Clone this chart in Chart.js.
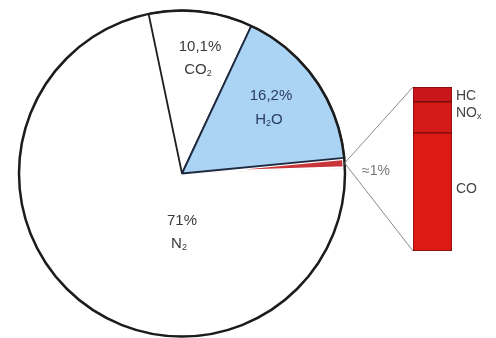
<!DOCTYPE html>
<html><head><meta charset="utf-8">
<script src="https://cdn.jsdelivr.net/npm/chart.js@4.4.1/dist/chart.umd.min.js"></script>
<style>
html,body{margin:0;padding:0;background:#fff;}
#wrap{position:relative;width:496px;height:338px;overflow:hidden;background:#fff;}
canvas{position:absolute;left:0;top:0;}
.lbl{position:absolute;transform:translate(-50%,-50%);font-family:"Liberation Sans",Arial,sans-serif;font-size:15px;color:#3a3a3a;white-space:nowrap;line-height:1;}
.lbl sub{font-size:9px;vertical-align:-2px;}
.side{transform:translate(0,-50%);}
</style></head><body>
<div id="wrap">
<canvas id="pie" width="496" height="338"></canvas>
<canvas id="bar" width="496" height="338"></canvas>
<div class="lbl" style="left:200px;top:45px;">10,1%</div>
<div class="lbl" style="left:198px;top:69px;">CO<sub>2</sub></div>
<div class="lbl" style="left:271px;top:94px;color:#2b3d63;">16,2%</div>
<div class="lbl" style="left:269px;top:119px;color:#2b3d63;">H<sub>2</sub>O</div>
<div class="lbl" style="left:182px;top:219px;">71%</div>
<div class="lbl" style="left:179px;top:243px;">N<sub>2</sub></div>
<div class="lbl side" style="left:362px;top:170px;font-size:14px;color:#777;">≈1%</div>
<div class="lbl side" style="left:456px;top:95px;font-size:14px;color:#444;">HC</div>
<div class="lbl side" style="left:456px;top:113px;font-size:14px;color:#444;">NO<sub>x</sub></div>
<div class="lbl side" style="left:456px;top:188px;font-size:14px;color:#444;">CO</div>
</div>
<script>
// Pie: exhaust gas composition (%)
const pieLabels = ['≈1%', 'N₂', 'CO₂', 'H₂O'];
const pieValues = [1, 71, 10.1, 16.2];
// Bar: breakdown of the ≈1% (share of bar)
const barCategories = ['≈1%'];
const coValues = [72];
const noxValues = [19];
const hcValues = [9];

const outerCircle = {
  id: 'outerCircle',
  afterDatasetsDraw(chart) {
    const a = chart.getDatasetMeta(0).data[0];
    const ctx = chart.ctx;
    ctx.save();
    ctx.beginPath();
    ctx.arc(a.x, a.y, a.outerRadius, 0, Math.PI * 2);
    ctx.lineWidth = 2.5;
    ctx.strokeStyle = '#1c1c1c';
    ctx.stroke();
    ctx.restore();
  }
};

const pieChart = new Chart(document.getElementById('pie'), {
  type: 'pie',
  data: {
    labels: pieLabels,
    datasets: [{
      data: pieValues,
      backgroundColor: ['#c8363a', '#ffffff', '#ffffff', '#abd3f4'],
      borderColor: ['#ffffff', '#ffffff', '#1f1f1f', '#1f2a40'],
      borderWidth: [2, 0, 1.8, 1.8],
      borderAlign: ['inner', 'center', 'center', 'center']
    }]
  },
  options: {
    responsive: false,
    animation: false,
    rotation: 84.5,
    radius: 163,
    layout: { padding: { left: 19, right: 151, top: 10.5, bottom: 1.5 } },
    plugins: { legend: { display: false }, tooltip: { enabled: false } }
  },
  plugins: [outerCircle]
});

const connectors = {
  id: 'connectors',
  beforeDatasetsDraw(chart) {
    const arc = pieChart.getDatasetMeta(0).data[0];
    const mid = (arc.startAngle + arc.endAngle) / 2;
    const px = arc.x + Math.cos(mid) * arc.outerRadius;
    const py = arc.y + Math.sin(mid) * arc.outerRadius;
    const top = chart.getDatasetMeta(2).data[0];
    const bot = chart.getDatasetMeta(0).data[0];
    const lx = top.x - top.width / 2;
    const ctx = chart.ctx;
    ctx.save();
    ctx.strokeStyle = '#8a8a8a';
    ctx.lineWidth = 1;
    ctx.beginPath();
    ctx.moveTo(px, py); ctx.lineTo(lx, top.y);
    ctx.moveTo(px, py); ctx.lineTo(lx, bot.base);
    ctx.stroke();
    ctx.restore();
  }
};

new Chart(document.getElementById('bar'), {
  type: 'bar',
  data: {
    labels: barCategories,
    datasets: [
      { label: 'CO', data: coValues, backgroundColor: '#dc1a16' },
      { label: 'NOx', data: noxValues, backgroundColor: '#d41a17' },
      { label: 'HC', data: hcValues, backgroundColor: '#c9161a' }
    ]
  },
  options: {
    responsive: false,
    animation: false,
    layout: { padding: { left: 413, right: 44, top: 87, bottom: 87 } },
    datasets: { bar: { barPercentage: 1, categoryPercentage: 1, borderWidth: 1, borderColor: '#7a0c0c', borderSkipped: false } },
    scales: {
      x: { display: false, stacked: true },
      y: { display: false, stacked: true, min: 0, max: 100 }
    },
    plugins: { legend: { display: false }, tooltip: { enabled: false } }
  },
  plugins: [connectors]
});
</script>
</body></html>
